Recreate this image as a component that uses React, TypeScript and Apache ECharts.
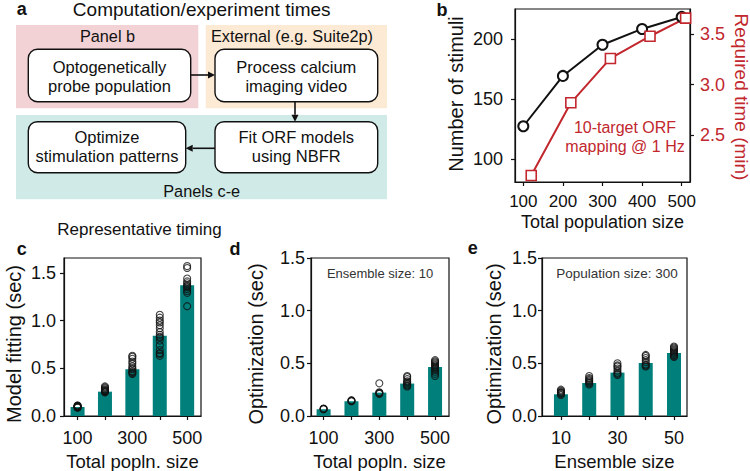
import { useEffect, useRef } from 'react';
import * as echarts from 'echarts';

// ---------- data ----------
const popSizes = [100, 200, 300, 400, 500];
const popTickLabels = [100, 300, 500];
const ensembleSizes = [10, 20, 30, 40, 50];
const ensembleTickLabels = [10, 30, 50];

// panel b
const stimuliCounts = [127.4, 169.3, 195.2, 208.4, 218.4];
const requiredTimeX = [120, 220, 320, 420, 510];
const requiredTimeMin = [2.1, 2.82, 3.26, 3.48, 3.66];
const stimuliTicks = [100, 150, 200];
const timeTicks = [2.5, 3.0, 3.5];

// panel c
const fitMeans = [0.094, 0.255, 0.49, 0.84, 1.37];
const fitRuns = [
  [0.09, 0.1, 0.1, 0.11, 0.09, 0.1, 0.11, 0.1, 0.09, 0.1],
  [0.25, 0.26, 0.27, 0.28, 0.29, 0.3, 0.31, 0.26, 0.25, 0.27],
  [0.44, 0.45, 0.47, 0.49, 0.52, 0.55, 0.57, 0.6, 0.62, 0.63, 0.46, 0.5],
  [0.63, 0.65, 0.66, 0.69, 0.74, 0.79, 0.82, 0.85, 0.88, 0.92, 0.95, 0.98, 1.0, 1.03, 1.06, 0.83],
  [1.15, 1.29, 1.31, 1.33, 1.35, 1.37, 1.39, 1.41, 1.44, 1.55, 1.57, 1.36],
];

// panel d
const optPopMeans = [0.064, 0.14, 0.222, 0.308, 0.465];
const optPopRuns = [
  [0.065, 0.07, 0.068, 0.066],
  [0.14, 0.145, 0.15, 0.142],
  [0.21, 0.22, 0.225, 0.215, 0.31],
  [0.28, 0.3, 0.32, 0.33, 0.35, 0.37, 0.38, 0.31, 0.29],
  [0.38, 0.4, 0.42, 0.44, 0.46, 0.47, 0.48, 0.5, 0.51, 0.52, 0.53, 0.49, 0.45],
];

// panel e
const optEnsMeans = [0.206, 0.313, 0.412, 0.503, 0.598];
const optEnsRuns = [
  [0.2, 0.21, 0.22, 0.23, 0.24, 0.25, 0.22],
  [0.3, 0.31, 0.32, 0.33, 0.34, 0.35, 0.36, 0.38],
  [0.39, 0.4, 0.41, 0.43, 0.45, 0.47, 0.48, 0.5],
  [0.47, 0.48, 0.49, 0.51, 0.53, 0.55, 0.57, 0.58],
  [0.56, 0.57, 0.58, 0.59, 0.6, 0.61, 0.62, 0.63, 0.64, 0.65, 0.66],
];
const secTicks = [0, 0.5, 1.0, 1.5];

// ---------- styles ----------
const FONT = '"Liberation Sans", Arial, Helvetica, sans-serif';
const TEAL = '#007f7b';
const RED = '#c1272d';
const INK = '#111';

const txt = (text: string, x: number, y: number, size: number, extra: any = {}, rotation = 0) => ({
  type: 'text',
  x,
  y,
  rotation,
  z: 10,
  style: {
    text,
    fontSize: size,
    fontFamily: FONT,
    fill: extra.fill || INK,
    fontWeight: extra.fontWeight || 'normal',
    align: extra.align || 'center',
    verticalAlign: 'middle',
  },
});

const rect = (x: number, y: number, w: number, h: number, fill: string, stroke?: string, r = 0) => ({
  type: 'rect',
  shape: { x, y, width: w, height: h, r },
  style: { fill, stroke: stroke || 'none', lineWidth: stroke ? 1.4 : 0 },
  z: 1,
});

const arrow = (x1: number, y1: number, x2: number, y2: number) => {
  const dx = x2 - x1;
  const dy = y2 - y1;
  const len = Math.sqrt(dx * dx + dy * dy);
  const ux = dx / len;
  const uy = dy / len;
  const hl = 7;
  const hw = 3.5;
  const bx = x2 - ux * hl;
  const by = y2 - uy * hl;
  return [
    { type: 'line', z: 3, shape: { x1, y1, x2: bx, y2: by }, style: { stroke: INK, lineWidth: 1.6 } },
    {
      type: 'polygon',
      z: 3,
      shape: { points: [[x2, y2], [bx - uy * hw, by + ux * hw], [bx + uy * hw, by - ux * hw]] },
      style: { fill: INK },
    },
  ];
};

const axisLine = { show: true, lineStyle: { color: INK, width: 1.2 } };
const tickStyle = (vals: number[]) => ({
  show: true,
  inside: false,
  length: 4,
  customValues: vals,
  lineStyle: { color: INK, width: 1.2 },
});
const labelStyle = (vals: number[], margin: number, fmt?: (v: number) => string, color = INK, size = 18) => ({
  show: true,
  customValues: vals,
  margin,
  fontSize: size,
  fontFamily: FONT,
  color,
  formatter: fmt ? (v: number) => fmt(v) : (v: number) => String(v),
});

const grids = [
  { left: 515, top: 9, width: 175, height: 173 },
  { left: 64, top: 258, width: 137, height: 158 },
  { left: 311, top: 258, width: 138, height: 158 },
  { left: 542, top: 258, width: 145, height: 158 },
].map((g) => ({ ...g, show: true, borderColor: INK, borderWidth: 1.2, backgroundColor: 'transparent' }));

const runsToPoints = (xs: number[], runs: number[][]) => {
  const pts: number[][] = [];
  runs.forEach((col, i) => col.forEach((v) => pts.push([xs[i], v])));
  return pts;
};

const barSeries = (xi: number, yi: number, xs: number[], means: number[]) => ({
  type: 'bar',
  xAxisIndex: xi,
  yAxisIndex: yi,
  barWidth: 14,
  data: xs.map((x, i) => [x, means[i]]),
  itemStyle: { color: TEAL },
  z: 2,
});

const dotSeries = (xi: number, yi: number, xs: number[], runs: number[][]) => ({
  type: 'scatter',
  xAxisIndex: xi,
  yAxisIndex: yi,
  symbol: 'circle',
  symbolSize: 7,
  data: runsToPoints(xs, runs),
  itemStyle: { color: 'rgba(0,0,0,0)', borderColor: INK, borderWidth: 1.1 },
  z: 3,
});

const fmt1 = (v: number) => v.toFixed(1);

export default function App() {
  const ref = useRef<HTMLDivElement>(null);

  useEffect(() => {
    if (!ref.current) return;
    const chart = echarts.init(ref.current, undefined, { renderer: 'svg' });

    const graphics: any[] = [
      // panel a backgrounds
      rect(16, 25, 182.3, 83.3, '#f2d2d5'),
      rect(205.7, 25, 181.3, 83.3, '#fcead5'),
      rect(16, 115, 371, 84.3, '#cfeae7'),
      // boxes
      rect(28.3, 49.3, 162.4, 52.4, '#fff', INK, 9),
      rect(215, 49.3, 162.7, 52.4, '#fff', INK, 9),
      rect(215, 121.7, 162.7, 51, '#fff', INK, 9),
      rect(28.3, 121.7, 157.4, 51, '#fff', INK, 9),
      ...arrow(190.7, 75, 215, 75),
      ...arrow(295, 101.7, 295, 121.7),
      ...arrow(215, 148.3, 185.7, 148.3),
      txt('a', 21.7, 8.5, 18, { fontWeight: 'bold' }),
      txt('Computation/experiment times', 201.7, 9, 19),
      txt('Panel b', 107.5, 35.5, 16.3),
      txt('External (e.g. Suite2p)', 292, 35.5, 16.3),
      txt('Optogenetically', 109.5, 66.7, 16.5),
      txt('probe population', 109.5, 86, 16.5),
      txt('Process calcium', 296.3, 66.7, 16.5),
      txt('imaging video', 296.3, 86, 16.5),
      txt('Fit ORF models', 296.3, 137, 16.5),
      txt('using NBFR', 296.3, 156, 16.5),
      txt('Optimize', 107, 137, 16.5),
      txt('stimulation patterns', 107, 156, 16.5),
      txt('Panels c-e', 201.7, 191, 16.3),
      // panel b texts
      txt('b', 442, 9.5, 18, { fontWeight: 'bold' }),
      txt('Number of stimuli', 456, 94, 20, {}, Math.PI / 2),
      txt('Required time (min)', 741, 97, 19, { fill: RED }, -Math.PI / 2),
      txt('Total population size', 602.5, 222, 18),
      txt('10-target ORF', 625, 127, 16, { fill: RED }),
      txt('mapping @ 1 Hz', 625, 146, 16, { fill: RED }),
      // lower panels
      txt('Representative timing', 139.5, 229, 17),
      txt('c', 21.7, 249, 18, { fontWeight: 'bold' }),
      txt('d', 235, 249, 18, { fontWeight: 'bold' }),
      txt('e', 472.7, 248, 18, { fontWeight: 'bold' }),
      txt('Model fitting (sec)', 14, 344, 20, {}, Math.PI / 2),
      txt('Optimization (sec)', 256, 344, 20, {}, Math.PI / 2),
      txt('Optimization (sec)', 494, 344, 20, {}, Math.PI / 2),
      txt('Total popln. size', 132.5, 461.5, 18.5),
      txt('Total popln. size', 379.5, 461.5, 18.5),
      txt('Ensemble size', 614.5, 461.5, 18.5),
      txt('Ensemble size: 10', 380, 273, 13, { fill: '#333' }),
      txt('Population size: 300', 617, 273, 13.5, { fill: '#333' }),
    ];

    const option: any = {
      animation: false,
      backgroundColor: '#fff',
      textStyle: { fontFamily: FONT },
      grid: grids,
      xAxis: [
        {
          type: 'value', gridIndex: 0, min: 79, max: 521,
          axisLine, axisTick: tickStyle(popSizes), axisLabel: labelStyle(popSizes, 11, undefined, INK, 17), splitLine: { show: false },
        },
        {
          type: 'value', gridIndex: 1, min: 50.5, max: 550.5,
          axisLine, axisTick: tickStyle(popSizes), axisLabel: labelStyle(popTickLabels, 13), splitLine: { show: false },
        },
        {
          type: 'value', gridIndex: 2, min: 54.8, max: 550,
          axisLine, axisTick: tickStyle(popSizes), axisLabel: labelStyle(popTickLabels, 13), splitLine: { show: false },
        },
        {
          type: 'value', gridIndex: 3, min: 3.3, max: 54.6,
          axisLine, axisTick: tickStyle(ensembleSizes), axisLabel: labelStyle(ensembleTickLabels, 13), splitLine: { show: false },
        },
      ],
      yAxis: [
        {
          type: 'value', gridIndex: 0, min: 81, max: 225,
          axisLine, axisTick: tickStyle(stimuliTicks), axisLabel: labelStyle(stimuliTicks, 12), splitLine: { show: false },
        },
        {
          type: 'value', gridIndex: 0, position: 'right', min: 2.035, max: 3.75,
          axisLine, axisTick: tickStyle(timeTicks), axisLabel: labelStyle(timeTicks, 10, fmt1, RED), splitLine: { show: false },
        },
        {
          type: 'value', gridIndex: 1, min: 0, max: 1.655,
          axisLine, axisTick: tickStyle(secTicks), axisLabel: labelStyle(secTicks, 8, fmt1), splitLine: { show: false },
        },
        {
          type: 'value', gridIndex: 2, min: 0, max: 1.5,
          axisLine, axisTick: tickStyle(secTicks), axisLabel: labelStyle(secTicks, 6, fmt1), splitLine: { show: false },
        },
        {
          type: 'value', gridIndex: 3, min: 0, max: 1.5,
          axisLine, axisTick: tickStyle(secTicks), axisLabel: labelStyle(secTicks, 5, fmt1), splitLine: { show: false },
        },
      ],
      series: [
        {
          type: 'line',
          xAxisIndex: 0,
          yAxisIndex: 0,
          data: popSizes.map((x, i) => [x, stimuliCounts[i]]),
          symbol: 'circle',
          symbolSize: 10,
          showAllSymbol: true,
          clip: false,
          lineStyle: { color: INK, width: 2 },
          itemStyle: { color: '#fff', borderColor: INK, borderWidth: 2 },
          z: 4,
        },
        {
          type: 'line',
          xAxisIndex: 0,
          yAxisIndex: 1,
          data: requiredTimeX.map((x, i) => [x, requiredTimeMin[i]]),
          symbol: 'rect',
          symbolSize: 10,
          showAllSymbol: true,
          clip: false,
          lineStyle: { color: RED, width: 2 },
          itemStyle: { color: '#fff', borderColor: RED, borderWidth: 1.6 },
          z: 4,
        },
        barSeries(1, 2, popSizes, fitMeans),
        dotSeries(1, 2, popSizes, fitRuns),
        barSeries(2, 3, popSizes, optPopMeans),
        dotSeries(2, 3, popSizes, optPopRuns),
        barSeries(3, 4, ensembleSizes, optEnsMeans),
        dotSeries(3, 4, ensembleSizes, optEnsRuns),
      ],
      graphic: graphics,
    };

    chart.setOption(option);
    return () => chart.dispose();
  }, []);

  return (
    <div
      ref={ref}
      style={{ position: 'fixed', left: 0, top: 0, width: 750, height: 471, background: '#fff' }}
    />
  );
}
